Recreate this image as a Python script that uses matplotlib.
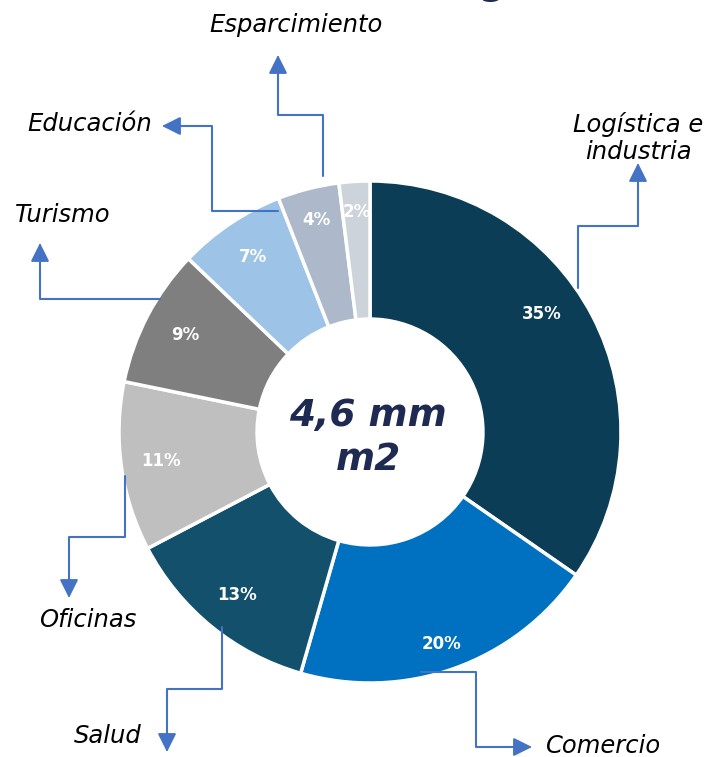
import numpy as np
import matplotlib.pyplot as plt
from matplotlib.patches import FancyArrowPatch
from matplotlib.path import Path

W, H = 706, 757

categories = ['Logística e\nindustria', 'Comercio', 'Salud', 'Oficinas',
              'Turismo', 'Educación', 'Esparcimiento', 'Otros']
shares = [35, 20, 13, 11, 9, 7, 4, 2]
colors = ['#0B3D56', '#0070C0', '#13506C', '#BFBFBF',
          '#7F7F7F', '#9DC3E6', '#ADB9CA', '#CDD3DB']
center_text = '4,6 mm\nm2'

# percentage label placement: radial fraction and angle nudge per slice
pct_dist = [0.83, 0.89, 0.84, 0.84, 0.83, 0.84, 0.87, 0.88]
pct_nudge = [7, -1, 0, 0, 0, 0, 0, 0]

# label text positions (pixel coords, y from top) and elbow leader paths
label_pos = {
    'Logística e\nindustria': (638, 138),
    'Comercio': (604, 746),
    'Salud': (108, 736),
    'Oficinas': (88, 620),
    'Turismo': (63, 215),
    'Educación': (90, 124),
    'Esparcimiento': (296, 25),
}
leaders = {
    'Logística e\nindustria': [(578, 288), (578, 226), (638, 226), (638, 163)],
    'Comercio': [(421, 672), (476, 672), (476, 747), (532, 747)],
    'Salud': [(222, 627), (222, 689), (167, 689), (167, 752)],
    'Oficinas': [(125, 476), (125, 537), (69, 537), (69, 598)],
    'Turismo': [(160, 299), (40, 299), (40, 243)],
    'Educación': [(278, 211), (212, 211), (212, 126), (162, 126)],
    'Esparcimiento': [(323, 176), (323, 115), (278, 115), (278, 55)],
}


def px(x, y):
    return x, H - y


fig = plt.figure(figsize=(W / 100, H / 100), dpi=100)
ax = fig.add_axes([0, 0, 1, 1])

cx, cy = px(370, 432)
R = 251
wedges, _ = ax.pie(
    shares, colors=colors, startangle=90, counterclock=False,
    center=(cx, cy), radius=R,
    wedgeprops=dict(width=R * 0.55, edgecolor='white', linewidth=2.5))

for w, v, d, n in zip(wedges, shares, pct_dist, pct_nudge):
    ang = np.deg2rad((w.theta1 + w.theta2) / 2 + n)
    ax.text(cx + d * R * np.cos(ang), cy + d * R * np.sin(ang), f'{v}%',
            ha='center', va='center', color='white', fontsize=12,
            fontweight='bold')

ax.set_xlim(0, W)
ax.set_ylim(0, H)
ax.set_aspect('auto')
ax.axis('off')

ax.text(*px(368, 438), center_text, ha='center', va='center',
        fontsize=27, fontweight='bold', style='italic', color='#1F2A52',
        linespacing=1.3)

for name, (lx, ly) in label_pos.items():
    ax.text(*px(lx, ly), name, ha='center', va='center', fontsize=17.5,
            style='italic', color='black', linespacing=1.2)

for name, pts in leaders.items():
    verts = [px(x, y) for x, y in pts]
    codes = [Path.MOVETO] + [Path.LINETO] * (len(verts) - 1)
    arrow = FancyArrowPatch(path=Path(verts, codes),
                            arrowstyle='-|>,head_length=0.7,head_width=0.35',
                            mutation_scale=16, color='#4472C4', lw=1.5)
    ax.add_patch(arrow)

# clipped title descender at the top edge
ax.text(*px(492, -6), 'g', ha='center', va='baseline', fontsize=27,
        fontweight='bold', color='#1F2A52')

fig.savefig('out.png', dpi=100)
